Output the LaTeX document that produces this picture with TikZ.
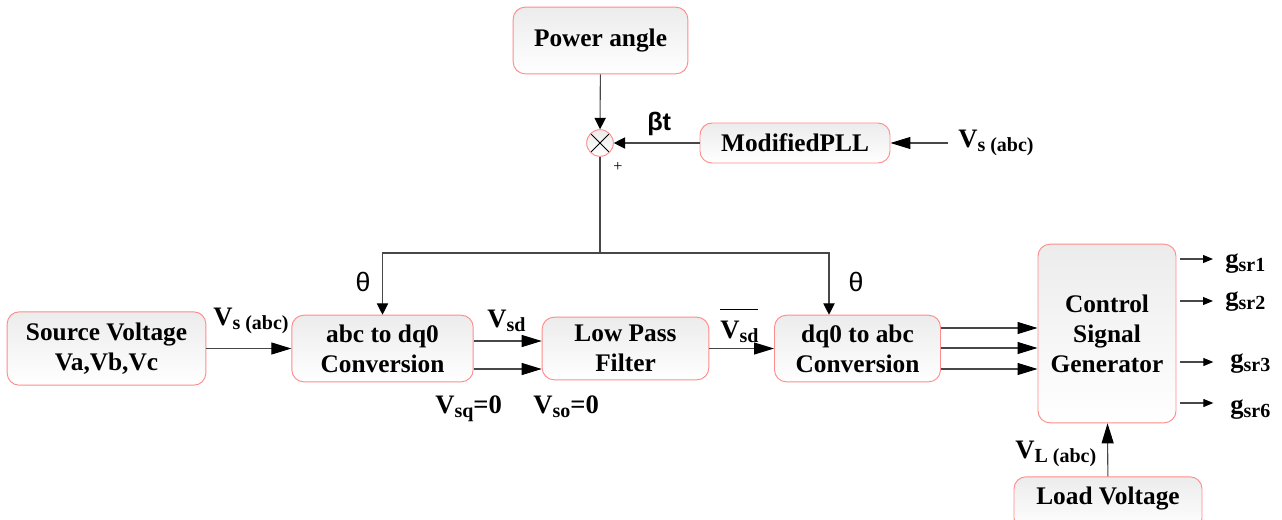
\documentclass[tikz,border=0pt]{standalone}
\usepackage{fontspec}
\setmainfont{Liberation Serif}
\newfontfamily\arialfont{Liberation Sans}
\usetikzlibrary{arrows.meta}

\newcommand{\subtx}[1]{\raisebox{-3.5pt}{\fontsize{15}{16}\selectfont #1}}

\tikzset{
  blk/.style={draw=red!45, line width=0.7pt, rounded corners=9pt, top color=gray!15,
    middle color=gray!55, bottom color=white, align=center, inner sep=0pt,
    font=\rmfamily\fontsize{19}{22.5}\selectfont\bfseries},
  lbl/.style={inner sep=0pt, anchor=base west, font=\rmfamily\fontsize{20}{22}\selectfont\bfseries},
  wire/.style={draw=black!72, line width=0.8pt},
  tip/.style={-{Triangle[length=15pt,width=9pt,color=black]}},
  smalltip/.style={-{Triangle[length=8.5pt,width=8.5pt,color=black]}},
  gtip/.style={-{Triangle[length=7.5pt,width=6pt,color=black]}},
}

\begin{document}
\begin{tikzpicture}[x=0.75pt,y=-0.75pt]
\useasboundingbox (0,0) rectangle (1282,519);
% blocks
\node[blk, minimum width=131pt, minimum height=50pt] (pwr) at (600.5,40.5) {Power angle};
\node[circle, draw=red!45, line width=0.7pt, top color=gray!15, middle color=gray!50, bottom color=white,
  minimum size=20pt, inner sep=0pt,
  path picture={\draw[black, line width=0.6pt] (path picture bounding box.north west) -- (path picture bounding box.south east)
    (path picture bounding box.north east) -- (path picture bounding box.south west);}] (sum) at (600,143) {};
\node[blk, minimum width=142.5pt, minimum height=30pt] (pll) at (795,143) {ModifiedPLL};
\node[blk, minimum width=149pt, minimum height=55pt] (src) at (106.5,348.5) {Source Voltage\\Va,Vb,Vc};
\node[blk, minimum width=136pt, minimum height=50pt] (abcdq) at (382.5,348.5) {abc to dq0\\Conversion};
\node[blk, minimum width=125pt, minimum height=47pt] (lpf) at (625.5,348.5) {Low Pass\\Filter};
\node[blk, minimum width=124.5pt, minimum height=50pt] (dqabc) at (857.5,348.5) {dq0 to abc\\Conversion};
\node[blk, minimum width=103.5pt, minimum height=134pt] (csg) at (1107,333.5) {Control\\Signal\\Generator};
\node[blk, minimum width=141pt, minimum height=40pt] (load) at (1108,503.5)
  {\raisebox{4pt}[\height][\depth]{Load Voltage}};

% labels
\node[lbl] (vin) at (958,147) {V\subtx{s (abc)}};
\node[lbl, font=\arialfont\fontsize{19}{21}\selectfont\bfseries] (bt) at (647,130) {βt};
\node[font=\fontsize{12}{13}\selectfont] (plus) at (618,167) {+};
\node[font=\arialfont\fontsize{20}{22}\selectfont] (th1) at (363,282) {θ};
\node[font=\arialfont\fontsize{20}{22}\selectfont] (th2) at (856,282) {θ};
\node[lbl] (vs) at (213,325) {V\subtx{s (abc)}};
\node[lbl] (vsd) at (487,327) {V\subtx{sd}};
\node[lbl] (vsq) at (435,413) {V\subtx{sq}=0};
\node[lbl] (vso) at (533,413) {V\subtx{so}=0};
\node[lbl] (vsdf) at (720,338) {$\overline{\hbox{\rule{0pt}{20pt}V\subtx{sd}}}$};
\node[lbl] (vl) at (1015,458) {V\subtx{L (abc)}};
\node[lbl] (g1) at (1225,267) {g\subtx{sr1}};
\node[lbl] (g2) at (1225,305) {g\subtx{sr2}};
\node[lbl] (g3) at (1230,367) {g\subtx{sr3}};
\node[lbl] (g6) at (1230,413) {g\subtx{sr6}};

% connectors
\coordinate (pin) at (948,143);
\coordinate (j) at (600,253);
\coordinate (t2) at (829,253);
\draw[wire, smalltip] (pwr) -- (sum);
\draw[wire, smalltip] (pll) -- (sum);
\draw[wire, tip] (pin) -- (pll.east);
\draw[wire] (sum) -- (j);
\draw[wire, smalltip] (j) -| (abcdq.north);
\draw[wire, smalltip] (j) -- (t2) -- (t2 |- dqabc.north);
\draw[wire, tip] (src) -- (abcdq);
\draw[wire, tip] (abcdq.east |- 0,341) -- (lpf.west |- 0,341);
\draw[wire, tip] (abcdq.east |- 0,369) -- (lpf.west |- 0,369);
\draw[wire, tip] (lpf) -- (dqabc);
\foreach \yy in {328,348,369}
  \draw[wire, tip] (dqabc.east |- 0,\yy) -- (csg.west |- 0,\yy);
\draw[wire, gtip] ([xshift=2.5pt]csg.east |- 0,259) -- ([xshift=-9pt]g1.west |- 0,259);
\draw[wire, gtip] ([xshift=2.5pt]csg.east |- 0,301) -- ([xshift=-9pt]g2.west |- 0,301);
\draw[wire, gtip] ([xshift=2.5pt]csg.east |- 0,362) -- ([xshift=-12.5pt]g3.west |- 0,362);
\draw[wire, gtip] ([xshift=2.5pt]csg.east |- 0,403) -- ([xshift=-12.5pt]g6.west |- 0,403);
\draw[wire, tip] (load) -- (csg);
\end{tikzpicture}
\end{document}
